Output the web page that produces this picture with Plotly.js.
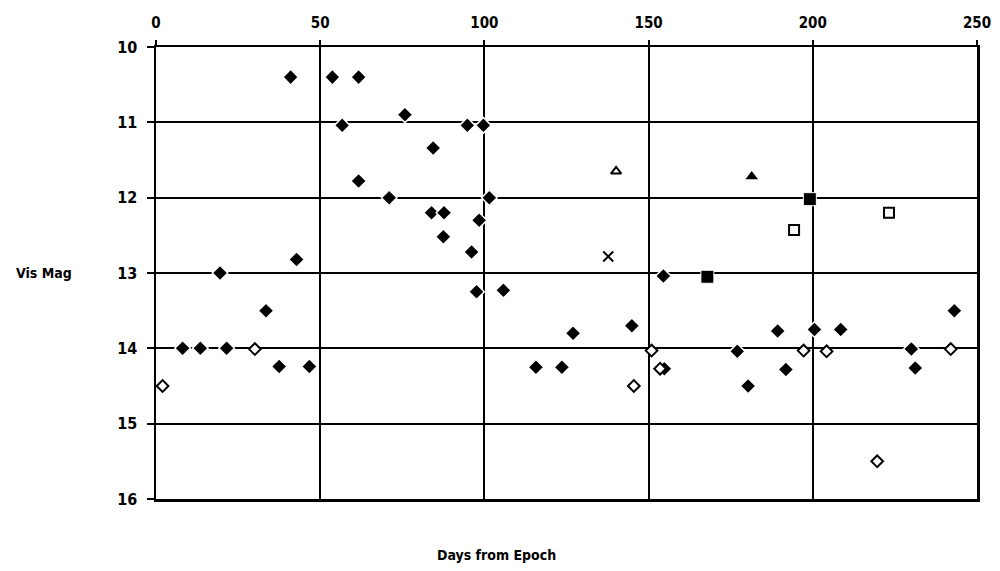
<!DOCTYPE html>
<html>
<head>
<meta charset="utf-8">
<script src="https://cdn.plot.ly/plotly-3.0.1.min.js"></script>
<style>html,body{margin:0;padding:0;background:#fff;}#chart{width:1000px;height:571px;}</style>
</head>
<body>
<div id="chart"></div>
<script>
// Days from epoch / visual magnitude readings, grouped by marker symbol
const filledDiamondX = [8.1,13.5,21.5,19.5,33.5,37.5,46.7,41.0,42.8,53.7,61.7,56.7,61.7,71.0,75.8,84.4,94.8,99.7,101.5,83.9,87.7,87.5,98.4,96.1,97.6,105.8,115.7,123.6,127.0,144.9,154.5,154.8,177.0,180.3,189.3,191.8,200.5,208.5,230.0,231.2,243.1];
const filledDiamondY = [14.0,14.0,14.0,13.0,13.5,14.24,14.24,10.4,12.82,10.4,10.4,11.04,11.78,12.0,10.9,11.34,11.04,11.04,12.0,12.2,12.2,12.52,12.3,12.72,13.25,13.23,14.25,14.25,13.8,13.7,13.04,14.27,14.04,14.5,13.77,14.28,13.75,13.75,14.01,14.26,13.5];

const openDiamondX = [2.0,30.1,145.5,150.9,153.5,197.2,204.2,219.6,242.0];
const openDiamondY = [14.5,14.01,14.5,14.03,14.27,14.03,14.04,15.5,14.01];

const filledSquareX = [167.9,199.1];
const filledSquareY = [13.05,12.02];

const openSquareX = [194.3,223.2];
const openSquareY = [12.43,12.2];

const openTriangleX = [140.1];
const openTriangleY = [11.65];

const filledTriangleX = [181.4];
const filledTriangleY = [11.72];

const crossX = [137.7];
const crossY = [12.78];

const xTicks = [0,50,100,150,200,250];
const yTicks = [10,11,12,13,14,15,16];

const FONT = "DejaVu Sans Condensed, DejaVu Sans, sans-serif";

const traces = [
  {x: filledDiamondX, y: filledDiamondY, type:'scatter', mode:'markers',
   marker:{symbol:'diamond', size:12, color:'#000', line:{color:'#fff', width:1.5}}},
  {x: openDiamondX, y: openDiamondY, type:'scatter', mode:'markers',
   marker:{symbol:'diamond', size:9, color:'#fff', line:{color:'#000', width:2}}},
  {x: filledSquareX, y: filledSquareY, type:'scatter', mode:'markers',
   marker:{symbol:'square', size:13, color:'#000', line:{color:'#fff', width:1}}},
  {x: openSquareX, y: openSquareY, type:'scatter', mode:'markers',
   marker:{symbol:'square', size:10, color:'#fff', line:{color:'#000', width:2}}},
  {x: openTriangleX, y: openTriangleY, type:'scatter', mode:'markers',
   marker:{symbol:'triangle-up', size:9, color:'#fff', line:{color:'#000', width:2}}},
  {x: filledTriangleX, y: filledTriangleY, type:'scatter', mode:'markers',
   marker:{symbol:'triangle-up', size:11, color:'#000'}},
  {x: crossX, y: crossY, type:'scatter', mode:'markers',
   marker:{symbol:'x-thin-open', size:10, color:'#000', line:{color:'#000', width:2}}}
];

const layout = {
  width:1000, height:571,
  margin:{l:156, r:23, t:47, b:72, pad:0},
  paper_bgcolor:'#fff', plot_bgcolor:'#fff',
  showlegend:false,
  font:{family:FONT, color:'#000'},
  xaxis:{
    side:'top', range:[0,250], autorange:false,
    tickvals: xTicks, ticktext: xTicks.map(String),
    ticks:'outside', ticklen:5, tickwidth:2, tickcolor:'#000',
    showgrid:true, gridcolor:'#000', gridwidth:2,
    showline:true, linecolor:'#000', linewidth:2.5, mirror:true,
    zeroline:false,
    ticklabelstandoff:6,
    tickfont:{family:FONT, size:15, weight:'bold', color:'#000'}
  },
  yaxis:{
    range:[16,10], autorange:false,
    tickvals: yTicks, ticktext: yTicks.map(String),
    ticks:'outside', ticklen:7, tickwidth:2, tickcolor:'#000',
    showgrid:true, gridcolor:'#000', gridwidth:2,
    showline:true, linecolor:'#000', linewidth:2.5, mirror:true,
    zeroline:false,
    ticklabelstandoff:6,
    tickfont:{family:FONT, size:16, weight:'bold', color:'#000'}
  },
  annotations:[
    {text:'Days from Epoch', xref:'paper', yref:'paper', x:0.415, y:0, yshift:-56,
     xanchor:'center', yanchor:'middle', showarrow:false,
     font:{family:FONT, size:14, weight:'bold', color:'#000'}},
    {text:'Vis Mag', xref:'paper', yref:'y', x:0, y:13, xshift:-112,
     xanchor:'center', yanchor:'middle', showarrow:false,
     font:{family:FONT, size:14, weight:'bold', color:'#000'}}
  ]
};

Plotly.newPlot('chart', traces, layout, {displayModeBar:false, staticPlot:true});
</script>
</body>
</html>
